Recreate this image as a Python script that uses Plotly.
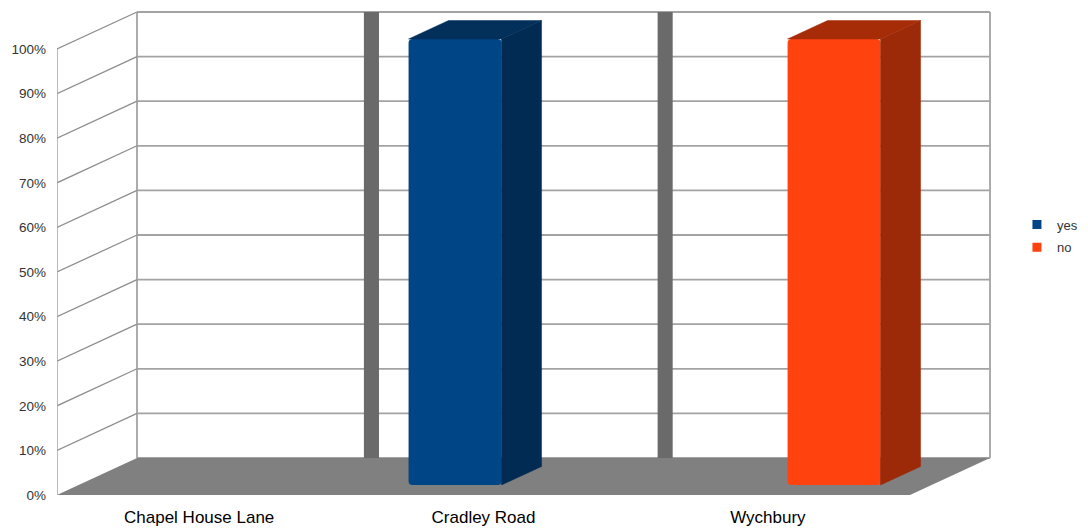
import plotly.graph_objects as go

# ---- data -------------------------------------------------------------
categories = ["Chapel House Lane", "Cradley Road", "Wychbury"]
yes_pct = [0, 100, 0]
no_pct = [0, 0, 100]
y_ticks = [0, 10, 20, 30, 40, 50, 60, 70, 80, 90, 100]

# ---- 3D-look geometry (x in category units, y in percent) -------------
DX = 0.2814          # horizontal shift from front plane to back wall
DY = 8.3             # vertical shift from front plane to back wall
D0, D1 = 0.27, 0.77  # bar depth span (fraction of full depth)
BAR_W = 0.327
OFFSETS = {"yes": -0.176, "no": 0.157}
SEPARATORS = [0.798, 1.831]
SEP_W = 0.053
N = len(categories)

FACE = {"yes": "#004586", "no": "#ff420e"}
SIDE = {"yes": "#012b53", "no": "#9c2a09"}
TOP = {"yes": "#032f5b", "no": "#a62c08"}

GRID = "#a3a3a3"
SLANT = "#8e8e8e"
FLOOR = "#808080"
SEP = "#6a6a6a"

shapes = []

def line(x0, y0, x1, y1, color, width):
    shapes.append(dict(type="line", xref="x", yref="y", x0=x0, y0=y0, x1=x1, y1=y1,
                       line=dict(color=color, width=width), layer="below"))

def poly(pts, color):
    path = "M " + " L ".join(f"{x},{y}" for x, y in pts) + " Z"
    shapes.append(dict(type="path", xref="x", yref="y", path=path,
                       fillcolor=color, line=dict(width=0), layer="below"))

# back wall grid lines and outline
for v in y_ticks:
    line(DX, v + DY, N + DX, v + DY, GRID, 1.8)
line(DX, DY, DX, 100 + DY, GRID, 1.8)
line(N + DX, DY, N + DX, 100 + DY, GRID, 1.8)

# thick separators standing on the back wall
for s in SEPARATORS:
    poly([(s + DX, DY - 0.7), (s + DX + SEP_W, DY - 0.7),
          (s + DX + SEP_W, 100 + DY), (s + DX, 100 + DY)], SEP)

# side wall: slanted lines and front edge
for v in y_ticks[1:]:
    line(0, v, DX, v + DY, SLANT, 1.3)
line(0, 0, 0, 100, GRID, 1.5)

# floor
poly([(0, 0), (N, 0), (N + DX, DY), (DX, DY)], FLOOR)

fig = go.Figure()

# bar side and top faces
for name, vals in (("yes", yes_pct), ("no", no_pct)):
    for i, v in enumerate(vals):
        if v <= 0:
            continue
        c = i + 0.5 + OFFSETS[name]
        xl = c - BAR_W / 2
        xr = c + BAR_W / 2
        side = [(xr + D0 * DX, D0 * DY), (xr + D1 * DX, D1 * DY),
                (xr + D1 * DX, v + D1 * DY), (xr + D0 * DX, v + D0 * DY)]
        top = [(xl + D0 * DX, v + D0 * DY), (xr + D0 * DX, v + D0 * DY),
               (xr + D1 * DX, v + D1 * DY), (xl + D1 * DX, v + D1 * DY)]
        for pts, col in ((side, SIDE[name]), (top, TOP[name])):
            fig.add_trace(go.Scatter(
                x=[p[0] for p in pts] + [pts[0][0]],
                y=[p[1] for p in pts] + [pts[0][1]],
                mode="lines", fill="toself", fillcolor=col,
                line=dict(color=col, width=0.5),
                hoverinfo="skip", showlegend=False))

# bar front faces
for name, vals in (("yes", yes_pct), ("no", no_pct)):
    fig.add_trace(go.Bar(
        x=[i + 0.5 + OFFSETS[name] + D0 * DX for i in range(N)],
        y=vals, base=D0 * DY, width=BAR_W,
        marker=dict(color=FACE[name], line=dict(width=0), cornerradius=4),
        name=name, showlegend=False))

# legend entries
for name in ("yes", "no"):
    fig.add_trace(go.Scatter(
        x=[None], y=[None], mode="markers", name=name, legendgroup=name,
        marker=dict(symbol="square", size=9, color=FACE[name])))

fig.update_layout(
    width=1088, height=530,
    margin=dict(l=57, r=88, t=5, b=35),
    paper_bgcolor="white", plot_bgcolor="white",
    barmode="overlay",
    font=dict(family="Liberation Sans, Arial, sans-serif"),
    shapes=shapes,
    xaxis=dict(range=[0, 943 / 284.33], showgrid=False, zeroline=False,
               showline=False, automargin=False,
               tickvals=[i + 0.5 for i in range(N)],
               ticktext=categories, ticks="", ticklabelstandoff=10,
               tickfont=dict(size=17, color="#000000")),
    yaxis=dict(range=[0, 490 / 4.46], showgrid=False, zeroline=False,
               showline=False, automargin=False, tickvals=y_ticks,
               ticktext=[f"{v}%" for v in y_ticks], ticks="",
               ticklabelstandoff=10, tickfont=dict(size=13.5, color="#333333")),
    legend=dict(xref="container", yref="container",
                x=0.9347, y=0.5547, xanchor="left", yanchor="middle",
                font=dict(size=13, color="#333333"), tracegroupgap=3,
                bgcolor="rgba(0,0,0,0)"),
    showlegend=True,
)

fig.write_html("out.html")
